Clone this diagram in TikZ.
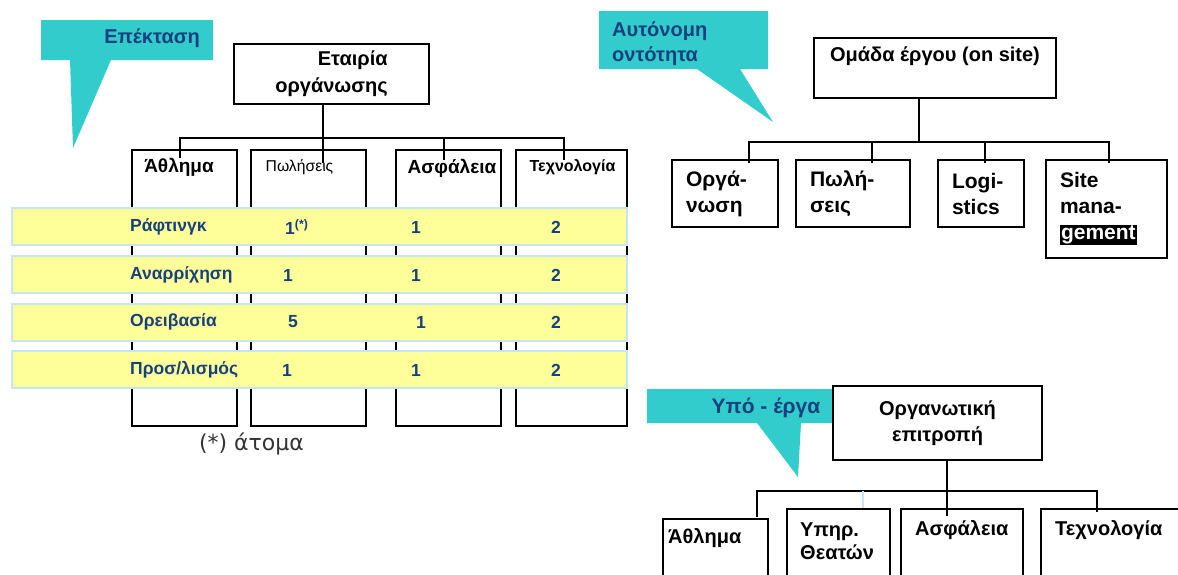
\documentclass[tikz,border=0pt]{standalone}
\usepackage{fontspec}
\setmainfont{Liberation Sans}
\newfontfamily\notefont{DejaVu Sans}

\definecolor{callteal}{HTML}{33CCCC}
\definecolor{navy}{HTML}{17407E}
\definecolor{rowyellow}{HTML}{FFFF99}
\definecolor{rowedge}{HTML}{C8E4F6}

\tikzset{
  link/.style={line width=1.6pt},
  box/.style={draw, line width=1.6pt, inner sep=0pt},
  tbox/.style={draw, line width=1.6pt, align=left, inner xsep=14pt, font=\bfseries\fontsize{21}{26}\selectfont},
  head/.style={font=\bfseries\fontsize{19}{23}\selectfont, inner sep=0pt, align=left},
  row/.style={fill=rowyellow, draw=rowedge, line width=2pt, minimum width=615, minimum height=37, inner sep=0pt},
  rowtxt/.style={font=\bfseries\fontsize{17.5}{20}\selectfont, text=navy, inner sep=0pt},
  calltxt/.style={font=\bfseries\fontsize{20}{25}\selectfont, text=navy, inner sep=0pt, align=left},
}

\begin{document}
\begin{tikzpicture}[x=1pt, y=-1pt]

    \useasboundingbox (0,0) rectangle (1178,574);
    \clip (0,0) rectangle (1178,574);

    % left: company organisation
    \fill[callteal] (41,20) -- (213,20) -- (213,60) -- (111,60) -- (73,148) -- (70,60) -- (41,60) -- cycle;
    \node[calltxt] (ext) at (152,38) {Επέκταση};

    \node[box, minimum width=195, minimum height=60, align=right, font=\bfseries\fontsize{20}{27}\selectfont] (org) at (331.5,74) {Εταιρία\\οργάνωσης};

    \node[box, minimum width=105, minimum height=276] (athl) at (184.5,288) {};
    \node[box, minimum width=115, minimum height=276] (sales) at (308.5,288) {};
    \node[box, minimum width=105, minimum height=276] (safe) at (448.5,288) {};
    \node[box, minimum width=111, minimum height=276] (tech) at (571.5,288) {};

    \node[head] (athlT) at (179,167) {Άθλημα};
    \node[head, font=\fontsize{15.7}{18}\selectfont] (salesT) at (299.5,167) {Πωλήσεις};
    \node[head] (safeT) at (452,168) {Ασφάλεια};
    \node[head, font=\bfseries\fontsize{16}{18}\selectfont] (techT) at (572.5,167) {Τεχνολογία};

    \coordinate (busL) at (323,138);
    \coordinate (dA) at (180,158);
    \coordinate (dB) at (323,163);
    \coordinate (dC) at (444,160);
    \coordinate (dD) at (564,160);
    \draw[link] (org.south -| busL) -- (dB);
    \draw[link] (dA) |- (busL) -| (dD);
    \draw[link] (dC |- busL) -- (dC);

    \node[row] (r1) at (319.5,226) {};
    \node[row] (r2) at (319.5,274) {};
    \node[row] (r3) at (319.5,322) {};
    \node[row] (r4) at (319.5,369) {};

    \node[rowtxt, anchor=west] (r1a) at (130,227) {Ράφτινγκ};
    \node[rowtxt, anchor=west] (r1b) at (285,227) {1\textsuperscript{(*)}};
    \node[rowtxt] (r1c) at (416,227) {1};
    \node[rowtxt] (r1d) at (556,227) {2};
    \node[rowtxt, anchor=west] (r2a) at (130,275) {Αναρρίχηση};
    \node[rowtxt] (r2b) at (288,275) {1};
    \node[rowtxt] (r2c) at (416,275) {1};
    \node[rowtxt] (r2d) at (556,275) {2};
    \node[rowtxt, anchor=west] (r3a) at (130,322) {Ορειβασία};
    \node[rowtxt] (r3b) at (293,322) {5};
    \node[rowtxt] (r3c) at (421,322) {1};
    \node[rowtxt] (r3d) at (556,322) {2};
    \node[rowtxt, anchor=west] (r4a) at (130,370) {Προσ/λισμός};
    \node[rowtxt] (r4b) at (287,370) {1};
    \node[rowtxt] (r4c) at (416,370) {1};
    \node[rowtxt] (r4d) at (556,370) {2};

    \node[font=\notefont\fontsize{22}{24}\selectfont, text=black!80, inner sep=0pt] (note) at (251.5,444) {(*) άτομα};

    % right top: on-site team
    \fill[callteal] (599,11) -- (768,11) -- (768,69) -- (740,69) -- (773,122) -- (697,69) -- (599,69) -- cycle;
    \node[calltxt, anchor=west] (auto) at (612,44) {Αυτόνομη\\οντότητα};

    \node[box, minimum width=242, minimum height=60, align=center, font=\bfseries\fontsize{20}{21}\selectfont] (team) at (935,68) {Ομάδα έργου (on site)\\\strut};

    \coordinate (busR) at (919,142);
    \coordinate (dE) at (749,163);
    \coordinate (dF) at (872,163);
    \coordinate (dG) at (985,163);
    \coordinate (dH) at (1109,163);
    \draw[link] (team.south -| busR) -- (busR);
    \draw[link] (dE) |- (busR) -| (dH);
    \draw[link] (dF |- busR) -- (dF);
    \draw[link] (dG |- busR) -- (dG);

    \node[tbox, text width=78, minimum height=67] (orgR) at (725,193.5) {Οργά-\\νωση};
    \node[tbox, text width=86, minimum height=67] (salesR) at (853,193.5) {Πωλή-\\σεις};
    \node[tbox, text width=58, minimum height=67] (logi) at (981,193.5) {Logi-\\stics};
    \node[tbox, text width=93, minimum height=98] (site) at (1106.5,209) {Site\\mana-\\{\fboxsep=1pt\colorbox{black}{\textcolor{white}{gement}}}};

    % right bottom: organising committee
    \fill[callteal] (647,389) -- (833,389) -- (833,423) -- (801,423) -- (798,477) -- (757,423) -- (647,423) -- cycle;
    \node[calltxt, font=\bfseries\fontsize{21}{25}\selectfont] (sub) at (766,408) {Υπό - έργα};

    \node[box, minimum width=209, minimum height=74, align=center, font=\bfseries\fontsize{20}{26}\selectfont] (comm) at (937.5,423) {Οργανωτική\\επιτροπή};

    \coordinate (busB) at (947,491);
    \coordinate (dI) at (757,517);
    \coordinate (dJ) at (863,510);
    \coordinate (dK) at (947,516);
    \coordinate (dL) at (1097,512);
    \draw[link] (comm.south -| busB) -- (dK);
    \draw[link] (dI) |- (busB) -| (dL);
    \draw[link, rowedge] (dJ |- busB) -- (dJ);

    \node[box, minimum width=105, minimum height=100] (athlB) at (715.5,569) {};
    \node[box, minimum width=103, minimum height=100] (svc) at (838.5,559) {};
    \node[box, minimum width=122, minimum height=100] (safeB) at (962,559) {};
    \node[box, minimum width=189, minimum height=100] (techB) at (1135.5,559) {};

    \node[head, anchor=west, font=\bfseries\fontsize{20}{23}\selectfont] (athlBT) at (668,538) {Άθλημα};
    \node[head, anchor=west, font=\bfseries\fontsize{20}{23}\selectfont] (svcT) at (800,541.5) {Υπηρ.\\Θεατών};
    \node[head, anchor=west, font=\bfseries\fontsize{20}{23}\selectfont] (safeBT) at (915,530) {Ασφάλεια};
    \node[head, anchor=west, font=\bfseries\fontsize{20}{23}\selectfont] (techBT) at (1055,530) {Τεχνολογία};

\end{tikzpicture}
\end{document}
